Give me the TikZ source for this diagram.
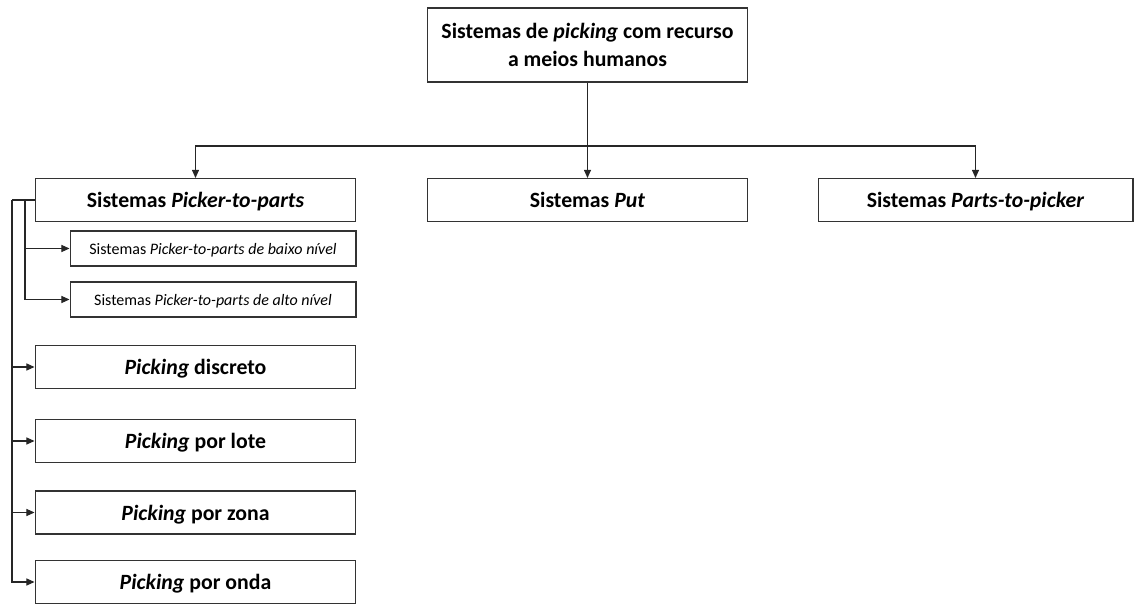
\documentclass[tikz,border=0pt]{standalone}
\usepackage{fontspec}
\setmainfont{Carlito}
\usetikzlibrary{positioning, arrows.meta}

\tikzset{
  bigbox/.style={draw=black!80,line width=0.6pt,rectangle,inner sep=0pt,
    minimum width=6.42cm,minimum height=0.86cm,align=center,text depth=0pt,
    font=\fontsize{12.4}{15.9}\selectfont\bfseries},
  subbox/.style={draw=black!80,line width=0.6pt,rectangle,inner sep=0pt,
    minimum width=5.72cm,minimum height=0.7cm,text depth=0pt,
    font=\fontsize{9.1}{11}\selectfont},
  link/.style={draw=black!85,line width=0.6pt}
}

\begin{document}
\begin{tikzpicture}[x=0.02cm,y=-0.02cm,>={Triangle[length=4.6pt,width=4pt]}]
  \useasboundingbox (0,0) rectangle (1134,604);
  % top level
  \node[bigbox,minimum height=1.48cm] (root) at (587.5,45)
    {Sistemas de \textit{picking} com recurso\\a meios humanos};
  \node[bigbox] (ptp) at (195.5,200){Sistemas \textit{Picker-to-parts}};
  \node[bigbox] (put) at (587.5,200){Sistemas \textit{Put}};
  \node[bigbox,minimum width=6.3cm] (pick) at (975.5,200)
    {Sistemas \textit{Parts-to-picker}};
  % picker-to-parts branches
  \node[subbox] (low) at (213,248.5){Sistemas \textit{Picker-to-parts de baixo nível}};
  \node[subbox] (high) at (213,299.5){Sistemas \textit{Picker-to-parts de alto nível}};
  \node[bigbox] (disc) at (195.5,367){\textit{Picking} discreto};
  \node[bigbox] (lote) at (195.5,441){\textit{Picking} por lote};
  \node[bigbox] (zona) at (195.5,512.5){\textit{Picking} por zona};
  \node[bigbox] (onda) at (195.5,582){\textit{Picking} por onda};
  \coordinate (bus) at (587.5,146);
  \coordinate (outer) at (12,200);
  \coordinate (inner) at (25,200);
  \draw[link,->](root.south)--(put.north);
  \draw[link,->](bus)-|(ptp.north);
  \draw[link,->](bus)-|(pick.north);
  \draw[link](ptp.west)--(outer);
  \draw[link,->](inner)|-(low.west);
  \draw[link,->](inner)|-(high.west);
  \foreach \n in {disc,lote,zona,onda}
    \draw[link,->](outer)|-(\n.west);
\end{tikzpicture}
\end{document}
